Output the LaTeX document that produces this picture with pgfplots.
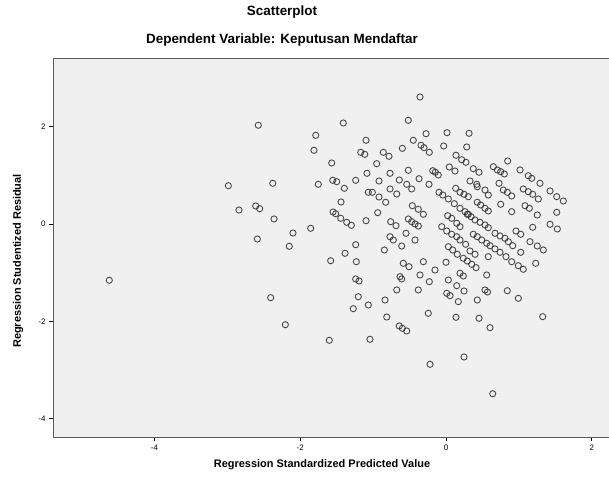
\documentclass[border=0pt]{standalone}
\usepackage{pgfplots}
\pgfplotsset{compat=1.18}
\usepackage{pgfplotstable}
\usepackage{fontspec}
\setmainfont{Liberation Sans}
\definecolor{bgray}{HTML}{F0F0F0}
\definecolor{framegray}{HTML}{5A5A5A}
\definecolor{markc}{HTML}{2E2E2E}
\pgfplotstableread{
x y
-2.986 0.786
-2.840 0.287
-4.619 -1.156
-2.575 2.027
-1.409 2.074
-1.787 1.821
-1.811 1.513
-1.097 1.719
-1.170 1.472
-1.115 1.431
-1.568 1.253
-1.084 1.041
-2.377 0.836
-1.752 0.815
-1.554 0.897
-1.499 0.869
-1.239 0.897
-1.395 0.733
-1.066 0.651
-1.440 0.452
-2.610 0.370
-2.556 0.314
-2.359 0.103
-1.550 0.246
-1.513 0.211
-1.444 0.117
-1.362 0.035
-1.299 -0.027
-1.097 0.068
-1.856 -0.088
-2.099 -0.185
-2.588 -0.308
-2.150 -0.458
-1.239 -0.425
-1.385 -0.602
-1.582 -0.754
-1.230 -0.774
-1.239 -1.129
-1.193 -1.170
-2.405 -1.513
-1.203 -1.493
-1.272 -1.739
-1.066 -1.663
-2.204 -2.068
-1.601 -2.388
-1.043 -2.368
-0.357 2.608
-0.517 2.129
-0.274 1.854
0.014 1.875
0.316 1.862
-0.449 1.719
-0.343 1.616
-0.302 1.567
-0.229 1.472
-0.032 1.602
0.284 1.581
-0.860 1.472
-0.782 1.390
-0.599 1.554
-0.951 1.238
0.137 1.411
0.215 1.320
0.274 1.267
0.045 1.170
0.123 1.088
-0.182 1.094
-0.147 1.062
-0.106 1.006
0.374 1.136
0.453 1.062
-0.768 1.041
-0.517 1.103
-0.919 0.883
-0.641 0.903
-0.370 0.930
-0.233 0.815
0.329 0.883
0.421 0.815
-0.539 0.815
-1.011 0.651
-0.919 0.554
-0.827 0.446
-0.768 0.719
-0.676 0.616
-0.471 0.719
-0.096 0.651
-0.045 0.595
0.032 0.513
0.133 0.733
0.192 0.651
0.247 0.610
0.306 0.561
0.429 0.766
0.535 0.698
0.114 0.417
0.192 0.322
0.261 0.253
0.306 0.199
0.429 0.446
0.476 0.390
0.535 0.322
0.580 0.267
-0.462 0.376
-0.380 0.302
-0.311 0.199
-0.937 0.232
-0.759 0.047
-0.686 -0.035
-0.517 0.103
-0.471 0.047
-0.425 0.000
-0.380 -0.041
-0.549 -0.191
-0.768 -0.261
-0.723 -0.329
-0.608 -0.452
-0.425 -0.329
-0.846 -0.534
-0.059 -0.055
0.023 0.170
0.078 0.117
0.147 0.014
0.192 -0.055
0.292 0.199
0.343 0.150
0.398 0.082
0.466 0.035
0.535 -0.021
0.580 -0.076
0.010 -0.144
0.078 -0.211
0.147 -0.261
0.192 -0.329
0.270 -0.417
0.374 -0.211
0.429 -0.261
0.490 -0.329
0.558 -0.396
0.032 -0.466
0.092 -0.534
0.155 -0.622
0.237 -0.704
0.292 -0.760
0.353 -0.828
0.412 -0.897
0.329 -0.554
0.398 -0.622
0.580 -0.671
-0.586 -0.807
-0.508 -0.877
-0.311 -0.774
0.000 -0.786
-0.151 -0.945
-0.357 -1.047
-0.631 -1.082
-0.608 -1.129
-0.229 -1.185
0.032 -1.150
0.192 -1.012
0.237 -1.068
0.558 -1.047
0.147 -1.267
0.247 -1.376
-0.676 -1.355
-0.380 -1.355
0.010 -1.423
0.055 -1.472
0.535 -1.355
-0.837 -1.561
0.169 -1.595
0.429 -1.561
-0.813 -1.910
-0.641 -2.094
-0.599 -2.142
-0.539 -2.197
-0.243 -1.834
0.137 -1.916
0.453 -1.936
0.604 -2.129
0.247 -2.731
-0.219 -2.881
0.641 -3.485
0.992 -1.526
1.326 -1.903
0.846 1.294
0.649 1.177
0.704 1.109
0.750 1.074
0.800 1.027
1.015 1.109
1.129 0.992
1.176 0.938
1.289 0.836
0.727 0.836
1.427 0.678
0.580 0.595
0.786 0.698
0.841 0.651
0.901 0.575
1.060 0.719
1.129 0.663
1.189 0.610
1.266 0.513
1.519 0.561
1.609 0.472
0.750 0.405
0.901 0.253
1.084 0.376
1.143 0.322
1.252 0.185
1.519 0.240
0.672 -0.191
0.741 -0.246
0.809 -0.294
0.855 -0.363
0.915 -0.446
0.960 -0.144
1.025 -0.211
1.189 -0.068
1.427 -0.006
1.527 -0.103
1.152 -0.363
1.252 -0.452
1.335 -0.534
0.604 -0.446
0.672 -0.513
0.741 -0.581
0.823 -0.671
0.901 -0.774
0.992 -0.856
1.060 -0.930
1.025 -0.581
1.230 -0.807
0.569 -1.396
0.841 -1.370
}\resid
\begin{document}
\begin{tikzpicture}
\useasboundingbox (0,0) rectangle (609bp,485bp);
\begin{axis}[
  at={(53bp,48bp)}, anchor=south west,
  scale only axis, width=559bp, height=378bp,
  xmin=-5.391, xmax=2.277, ymin=-4.374, ymax=3.388,
  axis background/.style={fill=bgray},
  axis line style={draw=framegray, line width=1bp},
  xtick={-4,-2,0,2}, ytick={-4,-2,0,2},
  tick pos=left,
  tick align=outside, major tick length=4bp,
  tick style={draw=black, line width=0.8bp},
  ticklabel style={font=\fontsize{8}{9}\selectfont},
  /pgf/number format/assume math mode=true,
]
\addplot[only marks, mark=o, mark size=3.1bp, mark options={draw=markc, line width=0.9bp, draw opacity=0.85}] table[x=x,y=y] {\resid};
\end{axis}
\node[font=\bfseries\fontsize{13.5}{15}\selectfont] at (282bp,473bp) {Scatterplot};
\node[font=\bfseries\fontsize{13.5}{15}\selectfont] at (282bp,445bp) {Dependent Variable: Keputusan Mendaftar};
\node[font=\bfseries\fontsize{11}{13}\selectfont] at (322bp,20bp) {Regression Standardized Predicted Value};
\node[font=\bfseries\fontsize{11}{13}\selectfont, rotate=90] at (18bp,224bp) {Regression Studentized Residual};
\end{tikzpicture}
\end{document}
